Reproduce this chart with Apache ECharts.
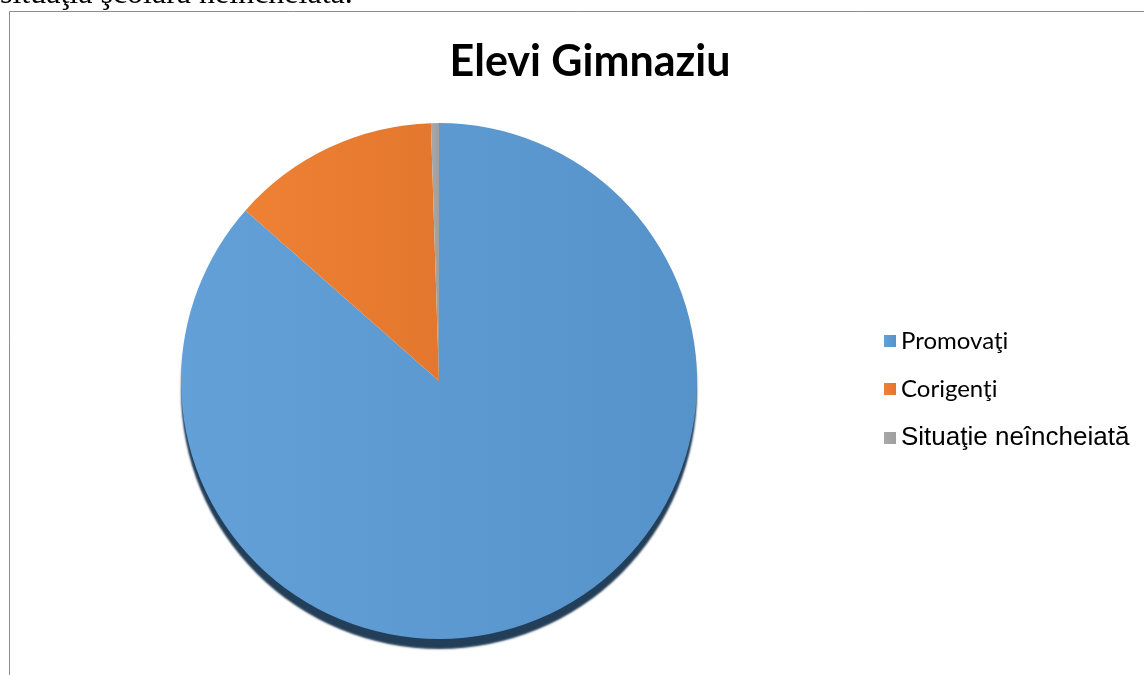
<!DOCTYPE html>
<html><head><meta charset="utf-8">
<script src="https://cdn.jsdelivr.net/npm/echarts@6/dist/echarts.min.js"></script>
<style>html,body{margin:0;padding:0;background:#fff;}#c{width:1144px;height:675px;}</style>
</head><body><div id="c"></div>
<script>
const categories = ['Promovaţi', 'Corigenţi', 'Situaţie neîncheiată'];
const values = [86.5, 13.0, 0.5];
const colors = ['#5b9bd5', '#ed7d31', '#a5a5a5'];
const titleText = 'Elevi Gimnaziu';
const captionText = 'situaţia şcolară neîncheiată.';

const chart = echarts.init(document.getElementById('c'));
const grad = (c1, c2) => new echarts.graphic.LinearGradient(0, 0, 1, 0, [{offset: 0, color: c1}, {offset: 1, color: c2}]);
const fills = [grad('#64a0d8', '#5593ca'), grad('#ee8134', '#e3772d'), grad('#a8a8a8', '#9f9f9f')];

chart.setOption({
  backgroundColor: '#fff',
  animation: false,
  title: {
    text: titleText, left: 585, top: 36, textAlign: 'center',
    textStyle: {fontFamily: 'Lato', fontWeight: 'bold', fontSize: 43, color: '#000'}
  },
  legend: {
    orient: 'vertical', left: 879, top: 324, itemWidth: 12, itemHeight: 12, itemGap: 24,
    icon: 'rect',
    formatter: n => n === 'Situaţie neîncheiată' ? '{b|' + n + '}' : '{a|' + n + '}',
    textStyle: {
      color: '#000',
      rich: {
        a: {fontFamily: 'Lato', fontSize: 24, color: '#000'},
        b: {fontFamily: 'Liberation Sans', fontSize: 26, color: '#000'}
      }
    },
    data: categories
  },
  graphic: [
    {type: 'rect', shape: {x: 9.5, y: 11.5, width: 1200, height: 800}, style: {fill: 'none', stroke: '#8c8c8c', lineWidth: 1}, z: -1},
    {type: 'text', x: 0, y: 11, style: {text: captionText, font: '32px "Liberation Serif"', fill: '#000', verticalAlign: 'bottom'}}
  ],
  series: [{
    type: 'pie', center: [439, 381], radius: 258, startAngle: 90, clockwise: true,
    label: {show: false}, labelLine: {show: false},
    emphasis: {disabled: true},
    data: categories.map((n, i) => ({
      name: n, value: values[i],
      itemStyle: i === 0
        ? {color: fills[i], shadowColor: '#233e58', shadowOffsetY: 10, shadowOffsetX: 0, shadowBlur: 2}
        : {color: fills[i]}
    }))
  }]
});
</script></body></html>
